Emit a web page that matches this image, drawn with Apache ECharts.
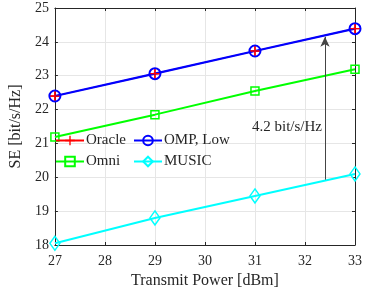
<!DOCTYPE html>
<html>
<head>
<meta charset="utf-8">
<script src="https://cdn.jsdelivr.net/npm/echarts@6/dist/echarts.min.js"></script>
<style>html,body{margin:0;padding:0;background:#fff}#c{width:365px;height:295px}</style>
</head>
<body>
<div id="c"></div>
<script>
const xValues = [27, 29, 31, 33];
const oracle = [22.40, 23.06, 23.73, 24.39];
const ompLow = [22.40, 23.06, 23.73, 24.39];
const omni = [21.19, 21.85, 22.55, 23.19];
const music = [18.05, 18.80, 19.45, 20.10];
const xTicks = [27, 28, 29, 30, 31, 32, 33];
const yTicks = [18, 19, 20, 21, 22, 23, 24, 25];
const arrowX = 32.4, arrowFrom = 19.93, arrowTo = 24.15;
const gapText = '4.2 bit/s/Hz';
const gapTextY = 21.49;

const FONT = 'Liberation Serif';
const TXT = '#262626';
const chart = echarts.init(document.getElementById('c'), null, {renderer: 'canvas'});
const pair = arr => xValues.map((x, i) => [x, arr[i]]);
const plus = 'path://M4.3,0h1.4v4.3h4.3v1.4h-4.3v4.3h-1.4v-4.3h-4.3v-1.4h4.3z';

const axisCommon = {
  type: 'value',
  axisLine: {show: true, lineStyle: {color: TXT, width: 1}},
  axisTick: {show: true, inside: true, length: 3, lineStyle: {color: TXT}},
  splitLine: {show: false},
  axisLabel: {show: false}
};

chart.setOption({
  animation: false,
  backgroundColor: '#fff',
  grid: {left: 43, right: 8, top: 8, bottom: 50},
  legend: [
    {
      orient: 'vertical', left: 55, top: 133, itemWidth: 28, itemHeight: 12, itemGap: 6,
      textStyle: {fontFamily: FONT, fontSize: 15, color: TXT, padding: [0, 0, 0, -3]},
      data: ['Oracle', 'Omni'], padding: 0
    },
    {
      orient: 'vertical', left: 133, top: 133, itemWidth: 28, itemHeight: 12, itemGap: 6,
      textStyle: {fontFamily: FONT, fontSize: 15, color: TXT, padding: [0, 0, 0, -3]},
      data: ['OMP, Low', 'MUSIC'], padding: 0
    }
  ],
  xAxis: [
    Object.assign({}, axisCommon, {
      min: 27, max: 33, interval: 1, position: 'bottom',
      splitLine: {show: true, lineStyle: {color: '#e6e6e6', width: 1}},
      axisLabel: {show: true, fontFamily: FONT, fontSize: 14, color: TXT, margin: 9,
        formatter: v => xTicks.includes(v) ? String(v) : ''},
      name: 'Transmit Power [dBm]', nameLocation: 'middle', nameGap: 27,
      nameTextStyle: {fontFamily: FONT, fontSize: 16, color: TXT}
    }),
    Object.assign({}, axisCommon, {min: 27, max: 33, interval: 1, position: 'top'})
  ],
  yAxis: [
    Object.assign({}, axisCommon, {
      min: 18, max: 25, interval: 1, position: 'left',
      splitLine: {show: true, lineStyle: {color: '#e6e6e6', width: 1}},
      axisLabel: {show: true, fontFamily: FONT, fontSize: 14, color: TXT, margin: 6,
        formatter: v => yTicks.includes(v) ? String(v) : ''},
      name: 'SE [bit/s/Hz]', nameLocation: 'middle', nameGap: 26,
      nameTextStyle: {fontFamily: FONT, fontSize: 16, color: TXT}
    }),
    Object.assign({}, axisCommon, {min: 18, max: 25, interval: 1, position: 'right'})
  ],
  series: [
    {
      name: 'Oracle', type: 'line', data: pair(oracle), symbol: plus, symbolSize: 10,
      z: 2,
      lineStyle: {color: '#ff0000', width: 1.2},
      itemStyle: {color: '#ff0000'}
    },
    {
      name: 'Omni', type: 'line', data: pair(omni), symbol: 'rect', symbolSize: 8,
      showAllSymbol: true, z: 3,
      lineStyle: {color: '#00ff00', width: 2},
      itemStyle: {color: 'rgba(255,255,255,0)', borderColor: '#00ff00', borderWidth: 1.5}
    },
    {
      name: 'MUSIC', type: 'line', data: pair(music), symbol: 'diamond', symbolSize: [10, 14],
      z: 3,
      lineStyle: {color: '#00ffff', width: 2},
      itemStyle: {color: 'rgba(255,255,255,0)', borderColor: '#00ffff', borderWidth: 1.5},
      markLine: {
        silent: true, symbol: ['none', 'arrow'], symbolSize: [7, 10],
        lineStyle: {color: '#444', width: 1, type: 'solid'},
        label: {show: false},
        data: [[{coord: [arrowX, arrowFrom]}, {coord: [arrowX, arrowTo]}]]
      },
      markPoint: {
        silent: true, symbol: 'circle', symbolSize: 0,
        label: {show: true, position: 'left', distance: 3, formatter: gapText,
          fontFamily: FONT, fontSize: 15, color: TXT},
        data: [{coord: [arrowX, gapTextY]}]
      }
    },
    {
      name: 'OMP, Low', type: 'line', data: pair(ompLow), symbol: 'circle', symbolSize: 11,
      z: 4,
      lineStyle: {color: '#0000ff', width: 2.2},
      itemStyle: {color: 'rgba(255,255,255,0)', borderColor: '#0000ff', borderWidth: 2}
    },
    {
      name: 'Oracle markers', type: 'line', data: pair(oracle), symbol: plus, symbolSize: 9,
      z: 5, silent: true,
      lineStyle: {color: '#ff0000', width: 0, opacity: 0},
      itemStyle: {color: '#ff0000'}
    }
  ]
});
</script>
</body>
</html>
